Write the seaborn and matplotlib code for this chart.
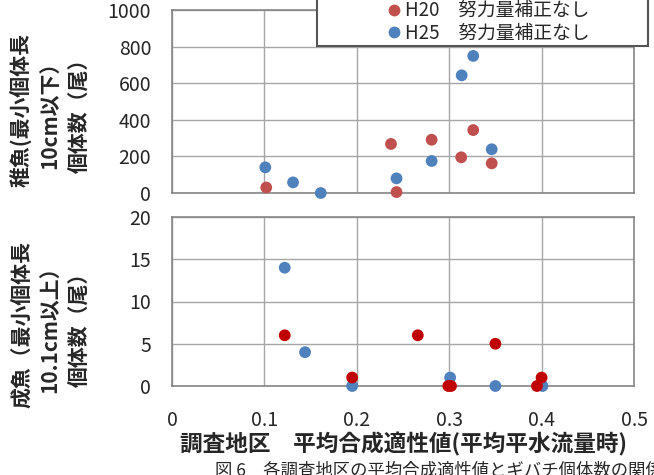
import matplotlib
matplotlib.use("Agg")
import matplotlib.pyplot as plt
import seaborn as sns
import pandas as pd
from matplotlib.lines import Line2D
from matplotlib.patches import Rectangle

# ---- data ----
series = ["H20", "H25"]
legend_labels = ["H20　努力量補正なし", "H25　努力量補正なし"]

top_h20_x = [0.102, 0.237, 0.243, 0.281, 0.313, 0.326, 0.346]
top_h20_y = [30, 268, 5, 291, 195, 344, 162]
top_h25_x = [0.101, 0.131, 0.161, 0.243, 0.281, 0.3135, 0.326, 0.346]
top_h25_y = [140, 58, 0, 80, 175, 643, 749, 239]

bot_h20_x = [0.122, 0.195, 0.266, 0.299, 0.302, 0.350, 0.395, 0.400]
bot_h20_y = [6, 1, 6, 0, 0, 5, 0, 1]
bot_h25_x = [0.122, 0.144, 0.195, 0.301, 0.350, 0.401]
bot_h25_y = [14, 4, 0, 1, 0, 0]

x_ticks = [0, 0.1, 0.2, 0.3, 0.4, 0.5]
x_tick_labels = ["0", "0.1", "0.2", "0.3", "0.4", "0.5"]
top_y_ticks = [0, 200, 400, 600, 800, 1000]
bot_y_ticks = [0, 5, 10, 15, 20]

top_ylabel = "稚魚(最小個体長\n10cm以下）\n個体数（尾）"
bot_ylabel = "成魚（最小個体長\n10.1cm以上）\n個体数（尾）"
xlabel = "調査地区　平均合成適性値(平均平水流量時)"
caption = "図 6　各調査地区の平均合成適性値とギバチ個体数の関係"

top_colors = {"H20": "#C0504D", "H25": "#4F81BD"}
bot_colors = {"H20": "#C00000", "H25": "#4F81BD"}

def make_df(h20x, h20y, h25x, h25y):
    # H25 first so H20 points are drawn on top
    return pd.DataFrame({
        "x": list(h25x) + list(h20x),
        "y": list(h25y) + list(h20y),
        "s": ["H25"] * len(h25x) + ["H20"] * len(h20x),
    })

df_top = make_df(top_h20_x, top_h20_y, top_h25_x, top_h25_y)
df_bot = make_df(bot_h20_x, bot_h20_y, bot_h25_x, bot_h25_y)

sns.set_theme(style="white")
plt.rcParams["font.family"] = ["Noto Sans CJK JP", "DejaVu Sans"]

fig = plt.figure(figsize=(6.54, 4.75), dpi=100)
W, H = 654, 475

def ax_rect(l, r, t, b):
    return [l / W, 1 - b / H, (r - l) / W, (b - t) / H]

ax1 = fig.add_axes(ax_rect(172, 634, 10, 193))
ax2 = fig.add_axes(ax_rect(172, 634, 217, 386))

grid_c = "#A6A6A6"
spine_c = "#868686"
text_c = "#262626"

for ax, df, colors, yt, ylab in [
    (ax1, df_top, top_colors, top_y_ticks, top_ylabel),
    (ax2, df_bot, bot_colors, bot_y_ticks, bot_ylabel),
]:
    sns.scatterplot(data=df, x="x", y="y", hue="s", palette=colors,
                    s=72, linewidth=0, legend=False, ax=ax, zorder=3,
                    clip_on=False)
    ax.set_xlim(0, 0.5)
    ax.set_ylim(yt[0], yt[-1])
    ax.set_xticks(x_ticks)
    ax.set_yticks(yt)
    ax.set_yticklabels([str(v) for v in yt], fontsize=14, color=text_c)
    ax.grid(True, color=grid_c, linewidth=1.0)
    ax.set_axisbelow(True)
    for sp in ax.spines.values():
        sp.set_color(spine_c)
        sp.set_linewidth(1.2)
    ax.tick_params(axis="both", length=0)
    ax.tick_params(axis="y", pad=15)
    ax.set_ylabel(ylab, fontsize=15, fontweight="bold", linespacing=1.45,
                  color=text_c)
    ax.set_xlabel("")

ax1.set_xticklabels([])
ax2.set_xticklabels(x_tick_labels, fontsize=14, color=text_c)
ax2.tick_params(axis="x", pad=17)
ax2.set_xlabel(xlabel, fontsize=16.3, fontweight="bold", color=text_c,
               labelpad=1)

# position ylabels (right edge of rotated text at ~89 px)
ax1.yaxis.set_label_coords((89 - 172) / 462, (193 - 110) / 183)
ax2.yaxis.set_label_coords((89 - 172) / 462, (386 - 324) / 169)

# legend box
rect = Rectangle((317 / W, 1 - 46 / H), (648 - 317) / W, 60 / H,
                 transform=fig.transFigure, facecolor="white",
                 edgecolor="#555555", linewidth=1.5, zorder=5)
fig.patches.append(rect)
handles = [Line2D([], [], marker="o", linestyle="", markersize=8.5,
                  markerfacecolor=top_colors[s], markeredgewidth=0)
           for s in series]
leg = fig.legend(handles, legend_labels, loc="center",
                 bbox_to_anchor=(487 / W, 1 - 22 / H), frameon=False,
                 fontsize=13.5, handletextpad=0.1, labelspacing=0.1,
                 handlelength=1.0, borderpad=0)
leg.set_zorder(6)

fig.text(215 / W, 1 - 461 / H, caption, fontsize=12.5, va="top", ha="left",
         color=text_c)

fig.savefig("out.png", dpi=100)
